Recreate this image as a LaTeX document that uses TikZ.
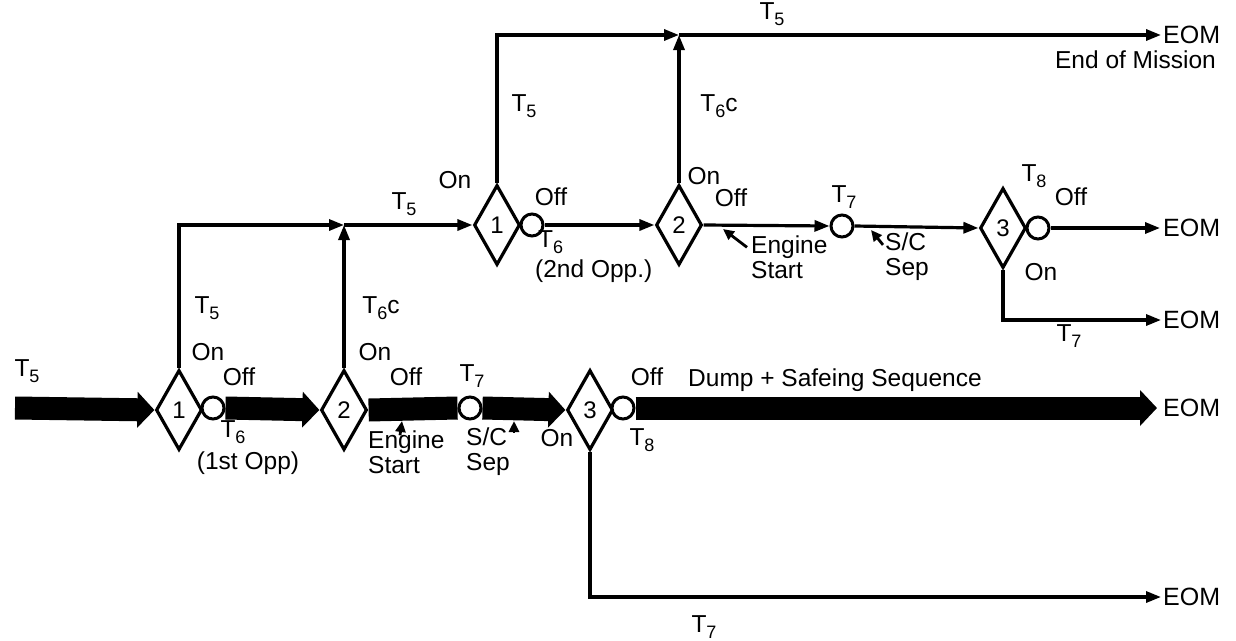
\documentclass[tikz,border=0pt]{standalone}
\usepackage{fontspec}
\setmainfont{Liberation Sans}
\usetikzlibrary{shapes.geometric,arrows.meta,backgrounds}
\newcommand{\Ts}[1]{T\raisebox{-0.45ex}{\fontsize{18}{18}\selectfont #1}}
\tikzset{
  dia/.style={diamond,draw,line width=3.2pt,fill=white,minimum width=46pt,minimum height=80pt,inner sep=0pt,font=\fontsize{24}{24}\selectfont},
  ring/.style={circle,draw,line width=3pt,fill=white,minimum size=22pt,inner sep=0pt},
  lbl/.style={inner sep=0pt,font=\fontsize{24.5}{25}\selectfont,align=left},
  eom/.style={inner sep=0pt,anchor=west,font=\fontsize{25}{25}\selectfont},
  bar/.style={line width=23pt},
  bararr/.style={line width=23pt,-{Triangle[length=17pt,width=35pt]}},
  wire/.style={line width=3.2pt},
  wirearr/.style={line width=3.2pt,-{Triangle[length=15pt,width=11pt]}},
  pointer/.style={line width=2.8pt,-{Triangle[length=11pt,width=10pt]}}
}
\begin{document}
\begin{tikzpicture}[x=1pt,y=-1pt]
\useasboundingbox (0,0) rectangle (1236,640);
% ---------- lower main line ----------
\coordinate (start) at (15,408);
\node[dia] (d1) at (179,410) {1};
\node[ring] (c1) at (213,408) {};
\node[dia] (d2) at (344,410) {2};
\node[ring] (c2) at (470,408) {};
\node[dia] (d3) at (590,410) {3};
\node[ring] (c3) at (623,408) {};
\node[eom] (eomB) at (1163,408) {EOM};
\coordinate (jM) at (344,225);
\node[eom] (eomB2) at (1163,597) {EOM};
% ---------- upper line ----------
\node[dia] (u1) at (497,225) {1};
\node[ring] (uc1) at (532,225) {};
\node[dia] (u2) at (679,225) {2};
\node[ring] (uc2) at (842,226) {};
\node[dia] (u3) at (1003,228) {3};
\node[ring] (uc3) at (1038,228) {};
\node[eom] (eomU) at (1163,228) {EOM};
\node[eom] (eomU2) at (1163,320) {EOM};
\coordinate (tJ) at (679,35);
\node[eom] (eomT) at (1163,35) {EOM};
% pointer anchors
\coordinate (pEs1) at (402,421);
\coordinate (pSc1) at (514,421);
\coordinate (pEs2) at (723,229);
\coordinate (pSc2) at (871,230);
\begin{scope}[on background layer]
\draw[bararr] (start) -- (d1.west);
\draw[bararr] (c1.east) -- (d2.west);
\draw[bar] (d2.east) -- (c2.west);
\draw[bararr] (c2.east) -- (d3.west);
\draw[bararr] (c3.east) -- ([xshift=-6pt]eomB.west);
\draw[wirearr] (d1.north) |- (jM);
\draw[wirearr] (d2.north) -- (jM);
\draw[wirearr] (jM) -- (u1.west);
\draw[wirearr] (d3.south) |- ([xshift=-2pt]eomB2.west);
\draw[wirearr] (uc1.east) -- (u2.west);
\draw[wirearr] (u2.east) -- (uc2.west);
\draw[wirearr] (uc2.east) -- (u3.west);
\draw[wirearr] (uc3.east) -- ([xshift=-3pt]eomU.west);
\draw[wirearr] (u3.south) |- ([xshift=-2pt]eomU2.west);
\draw[wirearr] (u1.north) |- (tJ);
\draw[wirearr] (u2.north) -- (tJ);
\draw[wirearr] (tJ) -- ([xshift=-2pt]eomT.west);
\end{scope}
% ---------- labels, lower ----------
\node[lbl] (t5a) at (27,371) {\Ts{5}};
\node[lbl] (on1) at (208,352) {On};
\node[lbl] (off1) at (239,377) {Off};
\node[lbl] (t6a) at (233,432) {\Ts{6}};
\node[lbl] (opp1) at (248,463) {(1st Opp)};
\node[lbl] (t5b) at (207,308) {\Ts{5}};
\node[lbl] (t6c1) at (381,308) {\Ts{6}c};
\node[lbl] (on2) at (375,352) {On};
\node[lbl] (off2) at (406,377) {Off};
\node[lbl] (t7a) at (472,376) {\Ts{7}};
\node[lbl,anchor=west] (es1) at (368,452) {Engine\\Start};
\node[lbl,anchor=west] (sc1) at (466,452) {S/C\\Sep};
\node[lbl] (on3) at (557,438) {On};
\node[lbl] (off3) at (647,377) {Off};
\node[lbl] (t8a) at (642,440) {\Ts{8}};
\node[lbl,anchor=west] (dump) at (688,380) {Dump + Safeing Sequence};
\node[lbl] (t7b) at (704,627) {\Ts{7}};
% ---------- labels, upper ----------
\node[lbl] (t5c) at (404,204) {\Ts{5}};
\node[lbl] (on4) at (455,180) {On};
\node[lbl] (off4) at (551,197) {Off};
\node[lbl,anchor=west] (t6b) at (538,242) {\Ts{6}};
\node[lbl,anchor=west] (opp2) at (535,271) {(2nd Opp.)};
\node[lbl] (t5d) at (524,106) {\Ts{5}};
\node[lbl] (t6c2) at (719,106) {\Ts{6}c};
\node[lbl] (on5) at (704,176) {On};
\node[lbl] (off5) at (731,198) {Off};
\node[lbl,anchor=west] (es2) at (751,257) {Engine\\Start};
\node[lbl] (t7c) at (844,197) {\Ts{7}};
\node[lbl,anchor=west] (sc2) at (885,257) {S/C\\Sep};
\node[lbl] (t8b) at (1034,176) {\Ts{8}};
\node[lbl] (off6) at (1071,197) {Off};
\node[lbl] (on6) at (1041,272) {On};
\node[lbl] (t7d) at (1069,336) {\Ts{7}};
\node[lbl] (t5e) at (772,14) {\Ts{5}};
\node[lbl,anchor=east] (eomtxt) at (1216,60) {End of Mission};
% ---------- pointers ----------
\draw[pointer] ([xshift=32pt,yshift=-5pt]es1.north west) -- (pEs1);
\draw[pointer] ([xshift=48pt,yshift=-5pt]sc1.north west) -- (pSc1);
\draw[pointer] ([xshift=-4pt,yshift=-12pt]es2.north west) -- (pEs2);
\draw[pointer] ([xshift=-2pt,yshift=-12pt]sc2.north west) -- (pSc2);
\end{tikzpicture}
\end{document}
